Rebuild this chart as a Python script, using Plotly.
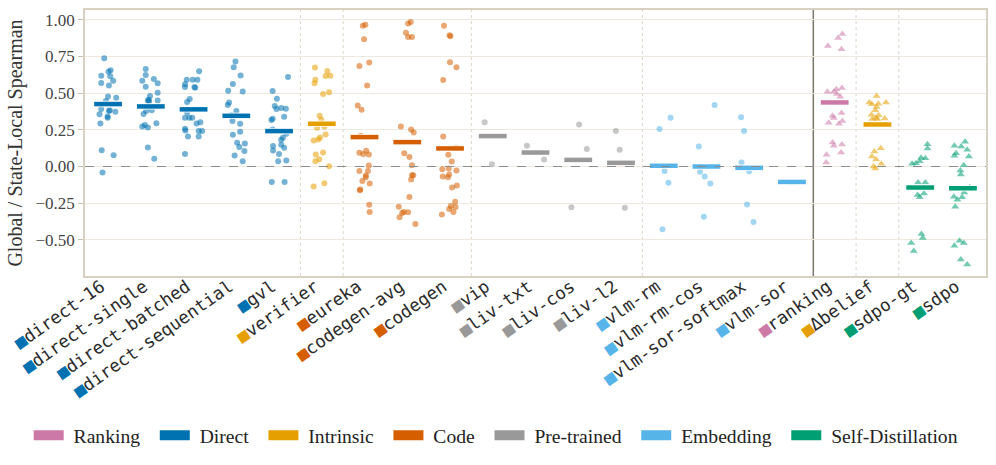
import plotly.graph_objects as go

# ---------------- data ----------------
categories = ["direct-16", "direct-single", "direct-batched", "direct-sequential", "gvl",
              "verifier", "eureka", "codegen-avg", "codegen", "vip", "liv-txt", "liv-cos",
              "liv-l2", "vlm-rm", "vlm-rm-cos", "vlm-sor-softmax", "vlm-sor", "ranking",
              "Δbelief", "sdpo-gt", "sdpo"]
groups = ["Direct", "Direct", "Direct", "Direct", "Direct",
          "Intrinsic", "Code", "Code", "Code", "Pre-trained", "Pre-trained", "Pre-trained",
          "Pre-trained", "Embedding", "Embedding", "Embedding", "Embedding", "Ranking",
          "Intrinsic", "Self-Distillation", "Self-Distillation"]
bar_values = [0.425, 0.409, 0.389, 0.345, 0.241, 0.291, 0.200, 0.166, 0.123, 0.207, 0.095,
              0.045, 0.025, 0.005, 0.000, -0.009, -0.105, 0.436, 0.286, -0.143, -0.148]
legend_order = ["Ranking", "Direct", "Intrinsic", "Code", "Pre-trained", "Embedding", "Self-Distillation"]
palette = {"Ranking": "#CC79A7", "Direct": "#0072B2", "Intrinsic": "#E69F00", "Code": "#D55E00",
           "Pre-trained": "#999999", "Embedding": "#56B4E9", "Self-Distillation": "#009E73"}
triangle_cats = ["ranking", "Δbelief", "sdpo-gt", "sdpo"]

v_direct16 = [0.736, 0.618, 0.645, 0.655, 0.614, 0.584, 0.568, 0.552, 0.477, 0.468, 0.445, 0.391,
              0.382, 0.377, 0.373, 0.355, 0.341, 0.332, 0.293, 0.111, 0.077, -0.041]
j_direct16 = [-0.09, -0.16, 0.01, 0.06, 0.05, 0.12, -0.16, 0.02, 0.0, 0.19, -0.05, -0.16,
              0.04, 0.02, 0.17, -0.20, -0.01, -0.01, -0.18, -0.15, 0.13, -0.13]
v_dsingle = [0.664, 0.623, 0.584, 0.595, 0.566, 0.543, 0.502, 0.480, 0.450, 0.450, 0.443, 0.455,
             0.377, 0.357, 0.382, 0.295, 0.273, 0.282, 0.266, 0.130, 0.052]
j_dsingle = [-0.12, -0.12, -0.20, 0.07, 0.16, -0.12, 0.16, -0.02, -0.07, 0.16, -0.04, -0.05,
             -0.11, -0.17, 0.02, 0.13, -0.20, -0.14, -0.07, -0.07, 0.08]
v_dbatched = [0.648, 0.591, 0.591, 0.591, 0.559, 0.541, 0.541, 0.536, 0.459, 0.439, 0.368, 0.332,
              0.332, 0.332, 0.302, 0.293, 0.257, 0.245, 0.241, 0.241, 0.205, 0.205, 0.086]
j_dbatched = [0.13, -0.16, -0.02, 0.09, -0.20, -0.20, 0.02, 0.04, -0.09, -0.15, -0.15, -0.20,
              -0.10, -0.03, 0.16, 0.07, -0.20, -0.19, 0.12, 0.20, -0.13, 0.12, -0.20]
v_dseq = [0.714, 0.675, 0.620, 0.561, 0.516, 0.511, 0.436, 0.418, 0.377, 0.348, 0.309, 0.291,
          0.236, 0.216, 0.161, 0.157, 0.132, 0.105, 0.075, 0.036]
j_dseq = [-0.02, -0.06, 0.10, -0.08, -0.19, 0.15, -0.17, -0.20, 0.0, -0.12, -0.09, 0.09,
          0.09, -0.08, 0.02, 0.20, 0.07, 0.19, -0.04, 0.15]
v_gvl = [0.609, 0.514, 0.461, 0.411, 0.391, 0.398, 0.393, 0.325, 0.316, 0.339, 0.252, 0.223,
         0.195, 0.182, 0.139, 0.148, 0.127, 0.109, 0.086, 0.036, 0.041, -0.105, -0.105]
j_gvl = [0.21, -0.15, -0.05, -0.10, -0.06, 0.05, 0.16, -0.15, -0.18, 0.12, -0.15, 0.17,
         0.09, 0.05, -0.14, 0.05, 0.12, -0.14, 0.0, -0.02, 0.17, -0.17, 0.13]
v_verifier = [0.673, 0.650, 0.591, 0.566, 0.616, 0.618, 0.493, 0.505, 0.345, 0.318, 0.264, 0.273,
              0.218, 0.198, 0.184, 0.177, 0.082, 0.095, 0.050, 0.036, 0.002, -0.136, -0.114]
j_verifier = [-0.16, 0.13, -0.15, -0.17, 0.09, 0.20, 0.03, 0.17, -0.05, -0.01, -0.11, 0.06,
              0.09, -0.04, -0.08, -0.19, -0.14, 0.03, -0.06, -0.15, 0.17, -0.19, 0.06]
v_eureka = [0.957, 0.964, 0.866, 0.684, 0.707, 0.552, 0.416, 0.386, 0.209, 0.093, 0.086, 0.107,
            0.082, 0.007, -0.030, -0.030, -0.061, -0.073, -0.098, -0.116, -0.157, -0.161,
            -0.261, -0.309]
j_eureka = [-0.04, 0.02, -0.01, -0.12, 0.11, 0.06, -0.16, -0.07, -0.09, -0.12, -0.03, 0.04,
            0.10, 0.10, 0.08, -0.12, 0.03, 0.03, -0.05, 0.12, -0.10, -0.11, 0.11, 0.12]
v_cgavg = [0.984, 0.973, 0.911, 0.882, 0.882, 0.273, 0.252, 0.232, 0.091, 0.064, 0.009, -0.059,
           -0.059, -0.089, -0.207, -0.273, -0.316, -0.309, -0.311, -0.345, -0.391]
j_cgavg = [0.08, 0.02, -0.03, 0.02, 0.11, -0.15, 0.09, 0.15, -0.07, 0.05, 0.11, 0.14,
           0.11, 0.09, 0.05, -0.20, -0.12, -0.08, 0.02, -0.18, 0.19]
v_codegen = [0.957, 0.893, 0.886, 0.709, 0.675, 0.589, 0.205, 0.127, 0.080, 0.034, -0.018, -0.014,
             -0.027, -0.068, -0.073, -0.055, -0.143, -0.130, -0.239, -0.268, -0.289, -0.275,
             -0.309, -0.327]
j_codegen = [-0.14, -0.01, 0.01, 0.0, 0.15, -0.16, -0.16, 0.14, -0.04, 0.04, -0.18, -0.03,
             0.15, -0.17, -0.05, -0.02, 0.05, 0.16, 0.12, 0.02, -0.02, 0.13, 0.08, -0.19]
v_vip = [0.302, 0.016]
j_vip = [-0.19, -0.02]
v_livtxt = [0.141, 0.048]
j_livtxt = [-0.20, 0.20]
v_livcos = [0.286, 0.120, -0.277]
j_livcos = [0.02, 0.20, -0.16]
v_livl2 = [0.241, 0.114, -0.280]
j_livl2 = [-0.12, -0.03, 0.09]
v_vlmrm = [0.332, 0.255, -0.030, -0.111, -0.427]
j_vlmrm = [0.16, -0.10, 0.02, 0.11, -0.03]
v_vlmrmcos = [0.418, 0.136, -0.036, -0.068, -0.116, -0.341]
j_vlmrmcos = [0.19, -0.18, -0.15, -0.04, 0.09, -0.06]
v_vlmsorsm = [0.336, 0.241, 0.027, -0.032, -0.259, -0.377]
j_vlmsorsm = [-0.19, -0.12, -0.18, 0.0, -0.05, 0.10]
v_vlmsor = [-0.105]
j_vlmsor = [0.0]
v_ranking = [0.902, 0.875, 0.820, 0.798, 0.509, 0.509, 0.525, 0.534, 0.493, 0.475, 0.345, 0.330,
             0.364, 0.298, 0.291, 0.309, 0.164, 0.141, 0.150, 0.080, 0.095, 0.027]
j_ranking = [0.18, 0.08, -0.16, 0.16, -0.17, -0.02, 0.04, 0.17, 0.05, 0.13, -0.05, -0.02,
             0.16, -0.14, 0.10, 0.18, -0.05, -0.02, 0.17, -0.19, 0.15, -0.20]
v_dbelief = [0.480, 0.436, 0.423, 0.436, 0.427, 0.405, 0.382, 0.352, 0.348, 0.332, 0.323, 0.327,
             0.323, 0.125, 0.102, 0.068, 0.048, 0.018, 0.000, -0.014]
j_dbelief = [-0.02, -0.19, -0.13, 0.20, 0.02, -0.02, -0.05, -0.14, 0.03, -0.04, -0.12, 0.17,
             0.0, 0.08, -0.07, -0.13, -0.03, 0.09, -0.09, -0.05]
v_sdpogt = [0.152, 0.123, 0.059, 0.057, 0.036, 0.018, 0.023, -0.109, -0.109, -0.184, -0.193,
            -0.209, -0.459, -0.486, -0.520, -0.575]
j_sdpogt = [0.17, 0.17, 0.02, 0.12, -0.01, -0.19, -0.10, -0.05, 0.12, 0.09, -0.06, -0.01,
            0.03, 0.06, -0.21, -0.15]
v_sdpo = [0.168, 0.136, 0.141, 0.114, 0.091, 0.073, 0.068, 0.009, -0.027, -0.055, -0.205, -0.227,
          -0.209, -0.177, -0.141, -0.273, -0.505, -0.539, -0.520, -0.632, -0.666]
j_sdpo = [0.05, -0.04, -0.20, 0.10, -0.16, -0.20, 0.14, 0.02, -0.06, -0.05, -0.21, -0.13,
          -0.02, 0.03, 0.16, -0.18, -0.08, -0.20, 0.02, -0.05, 0.10]

point_values = [v_direct16, v_dsingle, v_dbatched, v_dseq, v_gvl, v_verifier, v_eureka, v_cgavg,
                v_codegen, v_vip, v_livtxt, v_livcos, v_livl2, v_vlmrm, v_vlmrmcos, v_vlmsorsm,
                v_vlmsor, v_ranking, v_dbelief, v_sdpogt, v_sdpo]
point_jitter = [j_direct16, j_dsingle, j_dbatched, j_dseq, j_gvl, j_verifier, j_eureka, j_cgavg,
                j_codegen, j_vip, j_livtxt, j_livcos, j_livl2, j_vlmrm, j_vlmrmcos, j_vlmsorsm,
                j_vlmsor, j_ranking, j_dbelief, j_sdpogt, j_sdpo]

y_ticks = [1.0, 0.75, 0.5, 0.25, 0.0, -0.25, -0.5]
y_ticktext = ["1.00", "0.75", "0.50", "0.25", "0.00", "\u22120.25", "\u22120.50"]

# ---------------- figure ----------------
SERIF = "Liberation Serif"
MONO = "DejaVu Sans Mono"
BAR_HALF = 0.335
NBSP = "\u00a0"

fig = go.Figure()

for i, (cat, grp) in enumerate(zip(categories, groups)):
    col = palette[grp]
    sym = "triangle-up" if cat in triangle_cats else "circle"
    fig.add_trace(go.Scatter(
        x=[i + j for j in point_jitter[i]], y=point_values[i], mode="markers",
        marker=dict(color=col, size=7 if sym != "circle" else 6, symbol=sym, opacity=0.55,
                    line=dict(width=0)),
        showlegend=False, hoverinfo="skip"))

for i, (cat, grp) in enumerate(zip(categories, groups)):
    col = palette[grp]
    fig.add_trace(go.Scatter(
        x=[i - BAR_HALF, i + BAR_HALF], y=[bar_values[i], bar_values[i]], mode="lines",
        line=dict(color="rgba(255,255,255,0.8)", width=6.5), showlegend=False, hoverinfo="skip"))
    fig.add_trace(go.Scatter(
        x=[i - BAR_HALF + 0.01, i + BAR_HALF - 0.01], y=[bar_values[i], bar_values[i]], mode="lines",
        line=dict(color=col, width=4.5), showlegend=False, hoverinfo="skip"))

for grp in legend_order:
    fig.add_trace(go.Scatter(
        x=[None], y=[None], mode="lines", name=NBSP + grp + NBSP * 2,
        line=dict(color=palette[grp], width=10)))

ticktext = ['<span style="color:%s">\u25A0</span>%s' % (palette[g], c) for c, g in zip(categories, groups)]

shapes = []
for xs in [4.5, 5.5, 8.5, 12.5, 17.5, 18.5]:
    shapes.append(dict(type="line", xref="x", yref="paper", x0=xs, x1=xs, y0=0, y1=1,
                       line=dict(color="#ddd5c6", width=1, dash="dot"), layer="below"))
shapes.append(dict(type="line", xref="x", yref="paper", x0=16.5, x1=16.5, y0=0, y1=1,
                   line=dict(color="#7d766c", width=1.5), layer="below"))
shapes.append(dict(type="line", xref="paper", yref="y", x0=0, x1=1, y0=0, y1=0,
                   line=dict(color="#8c8c8c", width=1, dash="dash"), layer="above"))

fig.update_layout(
    width=996, height=465,
    margin=dict(l=85, r=10, t=10, b=189, autoexpand=False),
    paper_bgcolor="white", plot_bgcolor="white",
    shapes=shapes,
    showlegend=True,
    legend=dict(orientation="h", xref="paper", yref="paper", x=-0.0625, y=-0.60,
                xanchor="left", yanchor="middle",
                font=dict(family=SERIF, size=19.6, color="#222222"),
                itemwidth=30, tracegroupgap=0),
    xaxis=dict(range=[-0.54, 20.54], tickmode="array", tickvals=list(range(len(categories))),
               ticktext=ticktext, tickangle=-35,
               tickfont=dict(family=MONO, size=17.5, color="#2a2a2a"),
               ticklabelshift=-7, ticklabelstandoff=-8,
               showgrid=False, zeroline=False, showline=True, mirror=True,
               linecolor="#d8d0c0", linewidth=1.5, ticks=""),
    yaxis=dict(range=[-0.745, 1.065], tickmode="array", tickvals=y_ticks, ticktext=y_ticktext,
               tickfont=dict(family=SERIF, size=17, color="#444444"),
               showgrid=True, gridcolor="#eee8de", gridwidth=1, zeroline=False,
               showline=True, mirror=True, linecolor="#d8d0c0", linewidth=1.5,
               ticks="outside", ticklen=5, tickcolor="#c8c0b0",
               title=dict(text="Global / State-Local Spearman",
                          font=dict(family=SERIF, size=20, color="#333333"), standoff=8)),
)

fig.write_html("out.html")
